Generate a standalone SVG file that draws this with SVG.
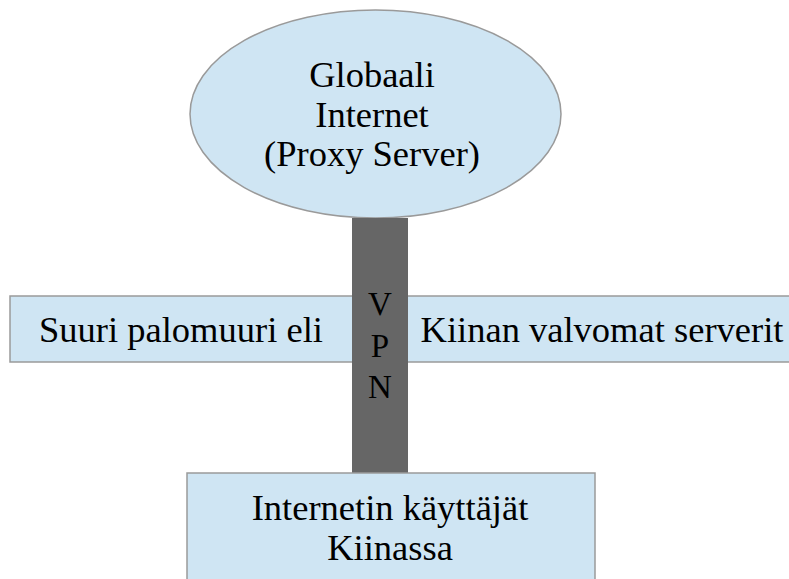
<svg xmlns="http://www.w3.org/2000/svg" width="789" height="579" viewBox="0 0 789 579">
<defs>
<style>
.shape{fill:#cfe5f3;stroke:#9a9a9a;stroke-width:1.5}
.t{font-family:'Liberation Serif',serif;font-size:36.5px;text-anchor:middle;fill:#000}
.v{font-size:33px}
</style>
</defs>
<rect width="789" height="579" fill="#fff"/>
<g id="firewall">
<rect class="shape" x="10" y="296" width="790" height="66"/>
<text class="t" x="181" y="342">Suuri palomuuri eli</text>
<text class="t" x="602" y="342">Kiinan valvomat serverit</text>
</g>
<g id="internet">
<ellipse class="shape" cx="375.5" cy="114" rx="185.5" ry="104"/>
<text class="t" x="372" y="87">Globaali</text>
<text class="t" x="372" y="127">Internet</text>
<text class="t" x="372" y="166">(Proxy Server)</text>
</g>
<g id="connectors">
<rect x="352" y="218" width="56" height="256" fill="#666"/>
<text class="t v" x="380" y="315">V</text>
<text class="t v" x="380" y="357">P</text>
<text class="t v" x="380" y="398">N</text>
</g>
<g id="users">
<rect class="shape" x="187" y="473" width="408" height="120"/>
<text class="t" x="390" y="520">Internetin käyttäjät</text>
<text class="t" x="390" y="560">Kiinassa</text>
</g>
</svg>
